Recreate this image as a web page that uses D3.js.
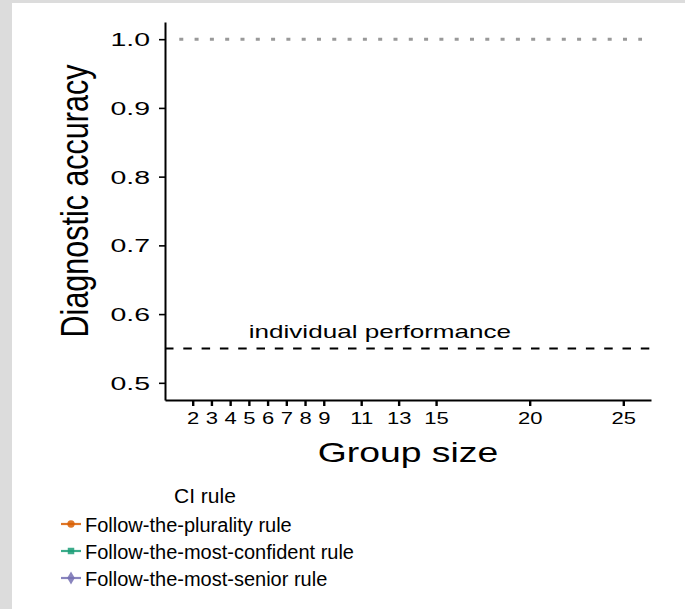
<!DOCTYPE html>
<html>
<head>
<meta charset="utf-8">
<script src="https://cdn.jsdelivr.net/npm/d3@7"></script>
<style>
  html, body { margin: 0; padding: 0; overflow: hidden; background: #fff; }
  svg { display: block; }
  text { font-family: "Liberation Sans", Arial, sans-serif; fill: #000; }
</style>
</head>
<body>
<div id="chart"></div>
<script>
// DATOS

const xTicks = [2, 3, 4, 5, 6, 7, 8, 9, 11, 13, 15, 20, 25]
const yTicks = [0.5, 0.6, 0.7, 0.8, 0.9, 1.0]
const perfectLevel = 1.0
const individualLevel = 0.55
const individualLabel = {x: 12, y: 0.565, text: "individual performance"}
const ruleNames = ["Follow-the-plurality rule", "Follow-the-most-confident rule", "Follow-the-most-senior rule"]
const ruleColors = ["#d95f02", "#1b9e77", "#7570b3"]
const ruleShapes = [d3.symbolCircle, d3.symbolSquare, d3.symbolDiamond]

// CONSTANTES

const width = 685
const height = 609
const panel = {left: 165, right: 651, top: 22, bottom: 400}

const svg = d3.select("#chart").append("svg")
    .attr("width", width).attr("height", height)

// fondo: solo franjas grises arriba y a la izquierda
svg.append("rect").attr("width", width).attr("height", height).attr("fill", "#fff")
svg.append("rect").attr("width", width).attr("height", 3).attr("fill", "#dcdcdc")
svg.append("rect").attr("width", 12).attr("height", height).attr("fill", "#dcdcdc")

// ESCALAS

const x = d3.scaleLinear().domain([0.52, 26.48]).range([panel.left, panel.right])
const y = d3.scaleLinear().domain([0.475, 1.025]).range([panel.bottom, panel.top])

// LINEAS DE REFERENCIA

svg.append("line")
    .attr("x1", x(1)).attr("x2", x(26))
    .attr("y1", y(perfectLevel)).attr("y2", y(perfectLevel))
    .attr("stroke", "#999").attr("stroke-width", 3)
    .attr("stroke-dasharray", "4 11.3").attr("stroke-dashoffset", 10)

svg.append("line")
    .attr("x1", panel.left).attr("x2", panel.right)
    .attr("y1", y(individualLevel)).attr("y2", y(individualLevel))
    .attr("stroke", "#000").attr("stroke-width", 2)
    .attr("stroke-dasharray", "8.5 9.8")

svg.append("text")
    .attr("transform", `translate(${x(individualLabel.x)}, ${y(individualLabel.y)}) scale(1.41, 1)`)
    .attr("text-anchor", "middle")
    .style("font-size", "18.5px")
    .text(individualLabel.text)

// EJES

const yAxis = d3.axisLeft(y).tickValues(yTicks).tickFormat(d3.format(".1f"))
    .tickSize(6).tickSizeOuter(0)
const xAxis = d3.axisBottom(x).tickValues(xTicks).tickFormat(d3.format("d"))
    .tickSize(6).tickSizeOuter(0)

const yAxisGroup = svg.append("g").attr("transform", `translate(${panel.left}, 0)`).call(yAxis)
const xAxisGroup = svg.append("g").attr("transform", `translate(0, ${panel.bottom})`).call(xAxis)

yAxisGroup.select(".domain").attr("stroke", "#000").attr("stroke-width", 2)
yAxisGroup.selectAll(".tick line").attr("stroke", "#000").attr("stroke-width", 1.6)
yAxisGroup.selectAll(".tick text")
    .attr("x", -15 / 1.6).attr("dy", "0.36em")
    .attr("transform", "scale(1.6, 1)")
    .style("font-size", "17.8px").style("font-family", null)

xAxisGroup.select(".domain").attr("stroke", "#000").attr("stroke-width", 2)
xAxisGroup.selectAll(".tick line").attr("stroke", "#000").attr("stroke-width", 2.4)
xAxisGroup.selectAll(".tick text")
    .attr("y", 12).attr("dy", "0.71em")
    .attr("transform", "scale(1.35, 1)")
    .attr("text-anchor", "middle")
    .style("font-size", "16.3px").style("font-family", null)

svg.selectAll(".tick text").attr("fill", "#000")

// TITULOS DE EJES

svg.append("text")
    .attr("transform", `translate(${(panel.left + panel.right) / 2}, 462) scale(1.31, 1)`)
    .attr("text-anchor", "middle")
    .style("font-size", "28.5px")
    .text("Group size")

svg.append("text")
    .attr("transform", "translate(88, 201) scale(1.3, 1) rotate(-90)")
    .attr("text-anchor", "middle")
    .style("font-size", "30.5px")
    .text("Diagnostic accuracy")

// LEYENDA

const legend = svg.append("g")
legend.append("text")
    .attr("x", 174).attr("y", 503)
    .style("font-size", "21px")
    .text("CI rule")

const items = legend.selectAll(".item").data(ruleNames).enter().append("g")
    .attr("class", "item")
    .attr("transform", (d, i) => `translate(0, ${524 + i * 27})`)

items.append("line")
    .attr("x1", 61).attr("x2", 81)
    .attr("stroke", (d, i) => ruleColors[i]).attr("stroke-width", 2.2)
    .attr("opacity", 0.85)
items.append("path")
    .attr("transform", "translate(71, 0)")
    .attr("d", (d, i) => d3.symbol().type(ruleShapes[i]).size(i === 2 ? 50 : 42)())
    .attr("fill", (d, i) => ruleColors[i])
    .attr("opacity", 0.85)
items.append("text")
    .attr("x", 85).attr("y", 7.5)
    .style("font-size", "20px")
    .text(d => d)
</script>
</body>
</html>
